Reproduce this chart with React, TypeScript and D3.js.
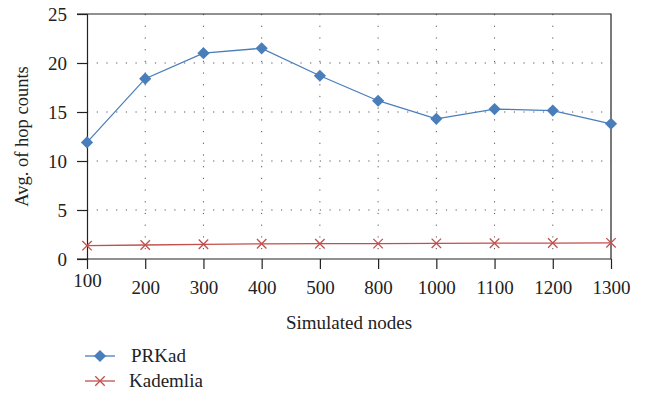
import React, { useEffect, useRef } from 'react';
import * as d3 from 'd3';

const nodes = ['100', '200', '300', '400', '500', '800', '1000', '1100', '1200', '1300'];
const prkad = [11.9, 18.4, 21.0, 21.5, 18.7, 16.15, 14.3, 15.3, 15.15, 13.8];
const kademlia = [1.36, 1.43, 1.5, 1.55, 1.56, 1.57, 1.6, 1.61, 1.63, 1.65];
const yTicks = [0, 5, 10, 15, 20, 25];
const seriesNames = ['PRKad', 'Kademlia'];

const W = 645;
const H = 396;
const FONT = 'Liberation Serif';
const BLUE = '#4a7ebb';
const RED = '#c0504d';

function App() {
  const ref = useRef<SVGSVGElement>(null);

  useEffect(() => {
    const svg = d3.select(ref.current);
    svg.selectAll('*').remove();

    const left = 87, right = 611, top = 14, bottom = 259;

    const x = d3.scalePoint().domain(nodes).range([left, right]);
    const y = d3.scaleLinear().domain([0, 25]).range([bottom, top]);

    // dotted grid
    const grid = svg.append('g');
    grid.selectAll('line.h')
      .data(yTicks.filter(t => t > 0 && t < 25))
      .enter().append('line')
      .attr('x1', left).attr('x2', right)
      .attr('y1', d => y(d)).attr('y2', d => y(d))
      .style('stroke', '#555').style('stroke-width', 1)
      .style('stroke-dasharray', '1.2,8.5');
    grid.selectAll('line.v')
      .data(nodes.slice(1, -1))
      .enter().append('line')
      .attr('x1', d => x(d)!).attr('x2', d => x(d)!)
      .attr('y1', top).attr('y2', bottom)
      .style('stroke', '#555').style('stroke-width', 1)
      .style('stroke-dasharray', '1.2,10.5');

    // frame
    svg.append('path')
      .attr('d', `M${left - 10},${top}H${right}V${bottom}`)
      .style('fill', 'none').style('stroke', '#222').style('stroke-width', 1.2);

    // y axis
    const yAxis = svg.append('g')
      .attr('transform', `translate(${left},0)`)
      .call(d3.axisLeft(y).tickValues(yTicks).tickSize(10).tickPadding(10));
    yAxis.select('.domain').style('stroke', '#222').style('stroke-width', 1.2);
    yAxis.selectAll('.tick line').style('stroke', '#222').style('stroke-width', 1.2);
    yAxis.selectAll('text').attr('fill', '#222');

    // x axis
    const xAxis = svg.append('g')
      .attr('transform', `translate(0,${bottom})`)
      .call(d3.axisBottom(x).tickSize(10).tickPadding(12));
    xAxis.select('.domain').attr('d', `M${left - 10},0H${right}`)
      .style('stroke', '#222').style('stroke-width', 1.2);
    xAxis.selectAll('.tick line').style('stroke', '#222').style('stroke-width', 1.2);
    xAxis.selectAll('text')
      .attr('fill', '#222')
      .attr('dy', (d, i) => (i === 0 ? '0.3em' : '0.71em'));
    svg.selectAll('g').attr('font-family', FONT).attr('font-size', 19);

    // axis titles
    svg.append('text')
      .attr('transform', `translate(28,${(top + bottom) / 2}) rotate(-90)`)
      .attr('text-anchor', 'middle')
      .attr('font-family', FONT).attr('font-size', 18.5).attr('fill', '#222')
      .text('Avg. of hop counts');
    svg.append('text')
      .attr('x', (left + right) / 2).attr('y', 329)
      .attr('text-anchor', 'middle')
      .attr('font-family', FONT).attr('font-size', 19).attr('fill', '#222')
      .text('Simulated nodes');

    const line = d3.line<number>().x((d, i) => x(nodes[i])!).y(d => y(d));

    // PRKad
    svg.append('path').datum(prkad).attr('d', line)
      .style('fill', 'none').style('stroke', BLUE).style('stroke-width', 1.3);
    const diamond = d3.symbol().type(d3.symbolDiamond2).size(95);
    svg.selectAll('path.prk')
      .data(prkad).enter().append('path')
      .attr('d', diamond)
      .attr('transform', (d, i) => `translate(${x(nodes[i])},${y(d)})`)
      .style('fill', BLUE);

    // Kademlia
    svg.append('path').datum(kademlia).attr('d', line)
      .style('fill', 'none').style('stroke', RED).style('stroke-width', 1.3);
    const cross = d3.symbol().type(d3.symbolX).size(60);
    svg.selectAll('path.kad')
      .data(kademlia).enter().append('path')
      .attr('d', cross)
      .attr('transform', (d, i) => `translate(${x(nodes[i])},${y(d)})`)
      .style('fill', 'none').style('stroke', RED).style('stroke-width', 1.3);

    // legend
    const legend = svg.append('g').selectAll('g')
      .data(seriesNames).enter().append('g')
      .attr('transform', (d, i) => `translate(85,${356 + i * 25})`);
    legend.append('line')
      .attr('x1', 0).attr('x2', 30)
      .style('stroke', (d, i) => (i === 0 ? BLUE : RED)).style('stroke-width', 1.3);
    legend.append('path')
      .attr('d', (d, i) => (i === 0 ? diamond() : cross()))
      .attr('transform', 'translate(15,0)')
      .style('fill', (d, i) => (i === 0 ? BLUE : 'none'))
      .style('stroke', (d, i) => (i === 0 ? 'none' : RED))
      .style('stroke-width', 1.3);
    legend.append('text')
      .attr('x', (d, i) => (i === 0 ? 46 : 44)).attr('y', 6)
      .attr('font-family', FONT).attr('font-size', 19).attr('fill', '#222')
      .text(d => d);
  });

  return (
    <svg ref={ref} width={W} height={H} style={{ position: 'absolute', left: 0, top: 0, background: 'white', fontFamily: 'Liberation Serif' }} />
  );
}

export default App;
